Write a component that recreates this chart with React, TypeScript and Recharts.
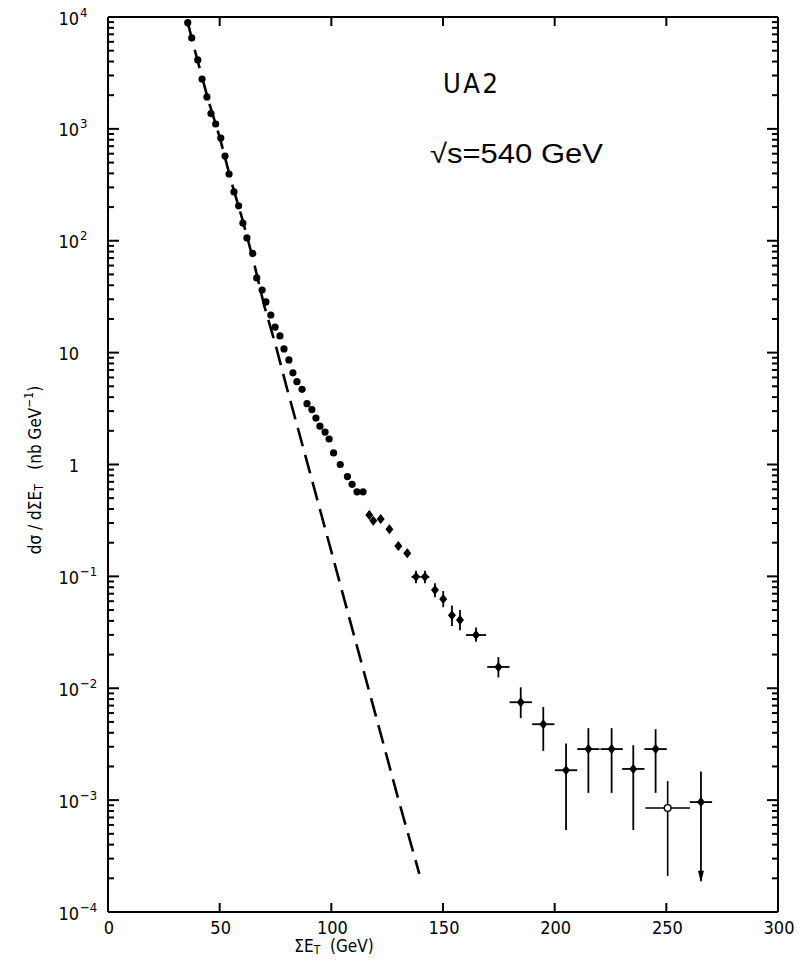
import { ComposedChart, ErrorBar, Line, Scatter, XAxis, YAxis } from "recharts";

const INK = "#000";
const AXIS_FONT = '"DejaVu Sans Condensed", "Liberation Sans Narrow", "DejaVu Sans", sans-serif';

// steep part of the spectrum, plain dots
const dotEt = [
  35.7, 37.5, 40.2, 42.1, 44.3, 46.1, 48.2, 50.5, 52.4, 54.2, 56.4, 58.5, 60.4, 62.2, 64.8, 66.6, 69.0,
  70.7, 72.9, 74.8, 77.0, 78.8, 81.0, 82.8, 84.6, 86.9, 89.1, 91.3, 93.1, 94.9, 97.2, 99.0, 101.0,
  104.0, 107.2, 109.3, 111.5, 114.2,
];
const dotSigma = [
  8900, 6500, 4130, 2790, 1930, 1370, 1105, 828, 571, 395, 273, 205, 144, 106, 77, 46.5, 36.3, 28.4,
  21.7, 16.9, 14.1, 10.8, 8.6, 6.6, 5.5, 4.7, 3.5, 3.1, 2.6, 2.2, 1.95, 1.69, 1.27, 1.0, 0.78, 0.665,
  0.57, 0.57,
];

// middle region, diamonds with small vertical errors
const midEt = [117.0, 118.8, 122.1, 126.0, 130.0, 134.0, 137.9, 141.9, 146.4, 150.1, 154.0, 157.6];
const midSigma = [0.354, 0.315, 0.326, 0.264, 0.187, 0.161, 0.099, 0.099, 0.0755, 0.0628, 0.045, 0.0407];
const midLow = [0.33, 0.295, 0.305, 0.245, 0.172, 0.148, 0.087, 0.087, 0.065, 0.053, 0.036, 0.033];
const midHigh = [0.385, 0.34, 0.35, 0.285, 0.203, 0.175, 0.112, 0.112, 0.087, 0.074, 0.055, 0.05];
const midHalfWidth = [0, 0, 0, 0, 0, 0, 2, 2, 0, 0, 0, 0];

// high-ET tail, 10 GeV bins
const tailEt = [164.8, 174.8, 184.8, 194.9, 205.1, 215.1, 225.5, 235.2, 245.2, 265.5];
const tailSigma = [0.0299, 0.0155, 0.0075, 0.00477, 0.00185, 0.00286, 0.00286, 0.0019, 0.00286, 0.00096];
const tailLow = [0.026, 0.0125, 0.0054, 0.00275, 0.00054, 0.00116, 0.00116, 0.00054, 0.00116, 0.00019];
const tailHigh = [0.035, 0.019, 0.0102, 0.0068, 0.0032, 0.0044, 0.0044, 0.0031, 0.0043, 0.0018];
const tailHalfWidth = [4.5, 5, 5, 5, 5, 5, 5, 5, 5, 5];

// wide bin, open marker
const openEt = [250.6];
const openSigma = [0.00085];
const openLow = [0.00021];
const openHigh = [0.00148];
const openHalfWidth = [10];

// upper-limit arrow tip
const limitEt = [265.5];
const limitSigma = [0.00019];

// QCD expectation (dashed)
const qcdEt = [35.7, 40, 45, 50, 55, 60, 65, 70, 75, 80, 90, 100, 110, 120, 130, 139.4];
const qcdSigma = [8900, 4150, 1780, 845, 350, 160, 68, 26, 11.8, 4.9, 0.91, 0.167, 0.0305, 0.0056, 0.00102, 0.000219];

const xTicks = [0, 50, 100, 150, 200, 250, 300];
const innerXTicks = [50, 100, 150, 200, 250];
const decades = [-4, -3, -2, -1, 0, 1, 2, 3, 4];

const X_MIN = 0;
const X_MAX = 300;
const Y_MIN = 1e-4;
const Y_MAX = 1e4;

const majorY = decades.map((k) => Math.pow(10, k));
const minorY: number[] = [];
decades.forEach((k) => {
  if (k < 4) for (let m = 2; m <= 9; m++) minorY.push(m * Math.pow(10, k));
});

const withErrors = (
  et: number[],
  sigma: number[],
  low: number[],
  high: number[],
  half: number[],
) =>
  et.map((x, i) => ({
    x,
    y: sigma[i],
    ey: [sigma[i] - low[i], high[i] - sigma[i]],
    ex: half[i],
  }));

const dotData = dotEt.map((x, i) => ({ x, y: dotSigma[i] }));
const midData = withErrors(midEt, midSigma, midLow, midHigh, midHalfWidth);
const tailData = withErrors(tailEt, tailSigma, tailLow, tailHigh, tailHalfWidth);
const openData = withErrors(openEt, openSigma, openLow, openHigh, openHalfWidth);
const limitData = limitEt.map((x, i) => ({ x, y: limitSigma[i] }));
const qcdData = qcdEt.map((x, i) => ({ x, y: qcdSigma[i] }));

// top and right edges of the frame
const frameTop = [
  { x: X_MIN, y: Y_MAX },
  { x: X_MAX, y: Y_MAX },
];
const frameRight = [
  { x: X_MAX, y: Y_MIN },
  { x: X_MAX, y: Y_MAX },
];

// anchor points for the inward tick marks on the frame
const leftMajor = majorY.map((y) => ({ x: X_MIN, y }));
const leftMinor = minorY.map((y) => ({ x: X_MIN, y }));
const rightMajor = majorY.map((y) => ({ x: X_MAX, y }));
const rightMinor = minorY.map((y) => ({ x: X_MAX, y }));
const bottomMarks = innerXTicks.map((x) => ({ x, y: Y_MIN }));
const topMarks = innerXTicks.map((x) => ({ x, y: Y_MAX }));

type TickProps = { x?: number; y?: number; payload?: { value: number } };
type ShapeProps = { cx?: number; cy?: number };

function PowerLabel({ x = 0, y = 0, payload }: TickProps) {
  const e = Math.round(Math.log10(payload?.value ?? 1));
  return (
    <g>
      <text
        x={x - 29}
        y={y + 1}
        textAnchor="end"
        dominantBaseline="central"
        fontFamily={AXIS_FONT}
        fontSize={18}
        fill={INK}
      >
        {e === 0 ? "1" : "10"}
      </text>
      {e !== 0 && e !== 1 ? (
        <text
          x={x - 28}
          y={y - 5}
          dominantBaseline="central"
          fontFamily={AXIS_FONT}
          fontSize={13}
          fill={INK}
        >
          {e < 0 ? `\u2212${-e}` : String(e)}
        </text>
      ) : null}
    </g>
  );
}

function EtLabel({ x = 0, y = 0, payload }: TickProps) {
  return (
    <text
      x={x + 1}
      y={y + 15}
      textAnchor="middle"
      dominantBaseline="central"
      fontFamily={AXIS_FONT}
      fontSize={18}
      fill={INK}
    >
      {payload?.value ?? ""}
    </text>
  );
}

// inward tick marks, drawn as thin bars
const LeftMajorMark = ({ cx = 0, cy = 0 }: ShapeProps) => (
  <rect x={cx} y={cy - 1} width={11} height={2} fill={INK} />
);
const LeftMinorMark = ({ cx = 0, cy = 0 }: ShapeProps) => (
  <rect x={cx} y={cy - 1} width={6} height={2} fill={INK} />
);
const RightMajorMark = ({ cx = 0, cy = 0 }: ShapeProps) => (
  <rect x={cx - 11} y={cy - 1} width={11} height={2} fill={INK} />
);
const RightMinorMark = ({ cx = 0, cy = 0 }: ShapeProps) => (
  <rect x={cx - 6} y={cy - 1} width={6} height={2} fill={INK} />
);
const BottomMark = ({ cx = 0, cy = 0 }: ShapeProps) => (
  <rect x={cx - 1} y={cy - 9} width={2} height={9} fill={INK} />
);
const TopMark = ({ cx = 0, cy = 0 }: ShapeProps) => (
  <rect x={cx - 1} y={cy} width={2} height={9} fill={INK} />
);

const Dot = ({ cx = 0, cy = 0 }: ShapeProps) => <circle cx={cx} cy={cy} r={3.6} fill={INK} />;

const Diamond = ({ cx = 0, cy = 0 }: ShapeProps) => (
  <path d={`M${cx},${cy - 5} L${cx + 4},${cy} L${cx},${cy + 5} L${cx - 4},${cy} Z`} fill={INK} />
);

const OpenDot = ({ cx = 0, cy = 0 }: ShapeProps) => (
  <circle cx={cx} cy={cy} r={3.4} fill="#fff" stroke={INK} strokeWidth={1.4} />
);

const ArrowHead = ({ cx = 0, cy = 0 }: ShapeProps) => (
  <path d={`M${cx - 3},${cy - 10} L${cx + 3},${cy - 10} L${cx},${cy + 2} Z`} fill={INK} />
);

export default function App() {
  return (
    <div style={{ position: "absolute", left: 0, top: 0, width: 810, height: 968, background: "#fff" }}>
      <ComposedChart width={810} height={968} margin={{ top: 17, right: 32, bottom: 0, left: 0 }}>
        <XAxis
          dataKey="x"
          type="number"
          domain={[X_MIN, X_MAX]}
          ticks={xTicks}
          height={56}
          tickSize={0}
          tickMargin={0}
          tickLine={false}
          axisLine={{ stroke: INK, strokeWidth: 2 }}
          tick={(p: TickProps) => <EtLabel {...p} />}
        />
        <YAxis
          dataKey="y"
          type="number"
          scale="log"
          domain={[Y_MIN, Y_MAX]}
          ticks={majorY}
          width={108}
          tickSize={0}
          tickMargin={0}
          tickLine={false}
          axisLine={{ stroke: INK, strokeWidth: 2 }}
          tick={(p: TickProps) => <PowerLabel {...p} />}
          interval={0}
        />
        <Line data={frameTop} dataKey="y" stroke={INK} strokeWidth={2} dot={false} activeDot={false} isAnimationActive={false} />
        <Line data={frameRight} dataKey="y" stroke={INK} strokeWidth={2} dot={false} activeDot={false} isAnimationActive={false} />
        <Scatter data={leftMajor} dataKey="y" shape={(p: ShapeProps) => <LeftMajorMark {...p} />} isAnimationActive={false} />
        <Scatter data={leftMinor} dataKey="y" shape={(p: ShapeProps) => <LeftMinorMark {...p} />} isAnimationActive={false} />
        <Scatter data={rightMajor} dataKey="y" shape={(p: ShapeProps) => <RightMajorMark {...p} />} isAnimationActive={false} />
        <Scatter data={rightMinor} dataKey="y" shape={(p: ShapeProps) => <RightMinorMark {...p} />} isAnimationActive={false} />
        <Scatter data={bottomMarks} dataKey="y" shape={(p: ShapeProps) => <BottomMark {...p} />} isAnimationActive={false} />
        <Scatter data={topMarks} dataKey="y" shape={(p: ShapeProps) => <TopMark {...p} />} isAnimationActive={false} />
        <Line
          data={qcdData}
          dataKey="y"
          type="linear"
          stroke={INK}
          strokeWidth={2.6}
          strokeDasharray="19 9"
          dot={false}
          activeDot={false}
          isAnimationActive={false}
        />
        <Scatter data={dotData} dataKey="y" shape={(p: ShapeProps) => <Dot {...p} />} isAnimationActive={false} />
        <Scatter data={midData} dataKey="y" shape={(p: ShapeProps) => <Diamond {...p} />} isAnimationActive={false}>
          <ErrorBar dataKey="ey" direction="y" width={0} stroke={INK} strokeWidth={1.8} isAnimationActive={false} />
          <ErrorBar dataKey="ex" direction="x" width={0} stroke={INK} strokeWidth={1.8} isAnimationActive={false} />
        </Scatter>
        <Scatter data={tailData} dataKey="y" shape={(p: ShapeProps) => <Diamond {...p} />} isAnimationActive={false}>
          <ErrorBar dataKey="ey" direction="y" width={0} stroke={INK} strokeWidth={1.8} isAnimationActive={false} />
          <ErrorBar dataKey="ex" direction="x" width={0} stroke={INK} strokeWidth={1.8} isAnimationActive={false} />
        </Scatter>
        <Scatter data={openData} dataKey="y" shape={(p: ShapeProps) => <OpenDot {...p} />} isAnimationActive={false}>
          <ErrorBar dataKey="ey" direction="y" width={0} stroke={INK} strokeWidth={1.6} isAnimationActive={false} />
          <ErrorBar dataKey="ex" direction="x" width={0} stroke={INK} strokeWidth={1.6} isAnimationActive={false} />
        </Scatter>
        <Scatter data={limitData} dataKey="y" shape={(p: ShapeProps) => <ArrowHead {...p} />} isAnimationActive={false} />
      </ComposedChart>
      <svg
        width={810}
        height={968}
        style={{ position: "absolute", left: 0, top: 0, pointerEvents: "none" }}
      >
        <text x={443} y={93} fontFamily={AXIS_FONT} fontSize={27} letterSpacing={2.5} fill={INK}>
          UA2
        </text>
        <text
          x={430}
          y={163}
          fontFamily='"Liberation Sans", Arial, sans-serif'
          fontSize={27}
          textLength={173}
          lengthAdjust="spacingAndGlyphs"
          fill={INK}
        >
          {"\u221As=540 GeV"}
        </text>
        <text
          x={35}
          y={470}
          transform="rotate(-90 35 470)"
          textAnchor="middle"
          dominantBaseline="central"
          fontFamily={AXIS_FONT}
          fontSize={17}
          fill={INK}
          style={{ whiteSpace: "pre" }}
        >
          {"d\u03C3 / d\u03A3E"}
          <tspan dy={4} fontSize={12}>T</tspan>
          <tspan dy={-4}>{"   (nb GeV"}</tspan>
          <tspan dy={-6} fontSize={12}>{"\u22121"}</tspan>
          <tspan dy={6}>)</tspan>
        </text>
        <text
          x={334}
          y={946}
          textAnchor="middle"
          dominantBaseline="central"
          fontFamily={AXIS_FONT}
          fontSize={17}
          fill={INK}
          style={{ whiteSpace: "pre" }}
        >
          {"\u03A3E"}
          <tspan dy={4} fontSize={12}>T</tspan>
          <tspan dy={-4}>{"  (GeV)"}</tspan>
        </text>
      </svg>
    </div>
  );
}
